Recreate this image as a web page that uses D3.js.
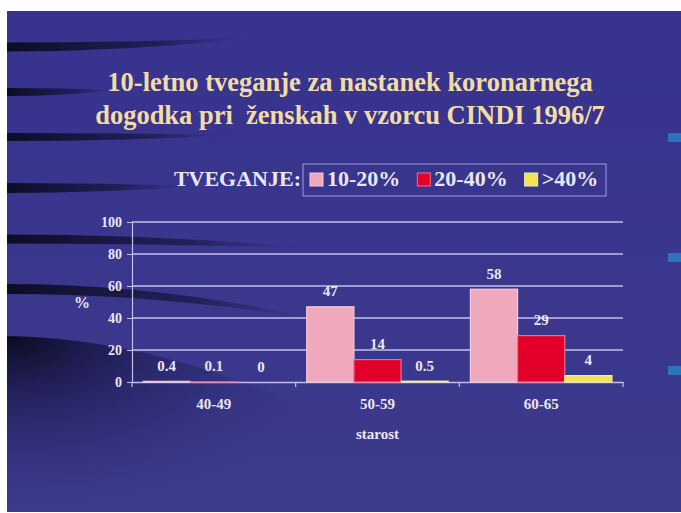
<!DOCTYPE html>
<html>
<head>
<meta charset="utf-8">
<script src="https://cdn.jsdelivr.net/npm/d3@7"></script>
<style>
  html, body { margin: 0; padding: 0; background: #fff; }
  svg { display: block; }
  text { white-space: pre; }
</style>
</head>
<body>
<svg id="chart" width="681" height="513"></svg>
<script>
var titleLines = ['10-letno tveganje za nastanek koronarnega',
                  'dogodka pri  ženskah v vzorcu CINDI 1996/7'];
var legendTitle = 'TVEGANJE:';
var categories = ['40-49', '50-59', '60-65'];
var seriesNames = ['10-20%', '20-40%', '>40%'];
var seriesColors = ['#f0a9bc', '#e2002b', '#f1e257'];
var seriesStroke = ['#f7c9d6', '#f06d8c', '#f6f09e'];
// one row per series, one value per age group
var values = [
  [0.4, 47, 58],
  [0.1, 14, 29],
  [0, 0.5, 4]
];
var yTicks = [0, 20, 40, 60, 80, 100];
var yLabel = '%';
var xLabel = 'starost';

var serif = '"Liberation Serif", "Times New Roman", serif';
var textColor = '#ebe6f5';
var gridColor = '#c3bdee';

var svg = d3.select('#chart');
var defs = svg.append('defs');

// slide background
svg.append('rect').attr('width', 681).attr('height', 513).attr('fill', '#fff');
var bgGrad = defs.append('linearGradient').attr('id', 'bg')
  .attr('x1', 0).attr('y1', 0).attr('x2', 0).attr('y2', 1);
bgGrad.append('stop').attr('offset', 0).attr('stop-color', '#37338f');
bgGrad.append('stop').attr('offset', 1).attr('stop-color', '#3c3a8b');
svg.append('rect').attr('x', 7).attr('y', 11).attr('width', 674).attr('height', 501)
  .attr('fill', 'url(#bg)');

var fade = defs.append('linearGradient').attr('id', 'fade')
  .attr('x1', 0).attr('y1', 0).attr('x2', 1).attr('y2', 0);
fade.append('stop').attr('offset', 0).attr('stop-color', '#0a0a1e').attr('stop-opacity', 0.95);
fade.append('stop').attr('offset', 0.6).attr('stop-color', '#15143a').attr('stop-opacity', 0.65);
fade.append('stop').attr('offset', 1).attr('stop-color', '#2a2770').attr('stop-opacity', 0);

// dark swooshes on the left: [left y, right x, right y, thickness]
var swooshes = [
  [47, 260, 37, 9],
  [92, 120, 90, 8],
  [137, 240, 135, 8],
  [188, 200, 186, 10],
  [239, 310, 248, 9],
  [289, 320, 320, 10]
];
var deco = svg.append('g').attr('class', 'deco');
deco.selectAll('path.swoosh').data(swooshes).enter().append('path')
  .attr('class', 'swoosh')
  .attr('fill', 'url(#fade)')
  .attr('d', function(s) {
    var p = d3.path(), mx = (7 + s[1]) / 2;
    p.moveTo(7, s[0] - s[3] / 2);
    p.quadraticCurveTo(mx, s[0] - s[3] / 2, s[1], s[2]);
    p.quadraticCurveTo(mx, s[0] + s[3] / 2, 7, s[0] + s[3] / 2);
    p.closePath();
    return p.toString();
  });

var wedge = defs.append('radialGradient').attr('id', 'wedge')
  .attr('cx', 0).attr('cy', 0).attr('r', 1);
wedge.append('stop').attr('offset', 0).attr('stop-color', '#08081a').attr('stop-opacity', 0.95);
wedge.append('stop').attr('offset', 0.45).attr('stop-color', '#1c1a50').attr('stop-opacity', 0.55);
wedge.append('stop').attr('offset', 1).attr('stop-color', '#2e2b78').attr('stop-opacity', 0);
deco.append('path')
  .attr('fill', 'url(#wedge)')
  .attr('d', 'M7,336 C120,338 230,370 345,425 L345,512 L7,512 Z');

// small cyan marks at the right edge
deco.selectAll('rect.mark').data([[668, 133], [668, 253], [668, 366]]).enter()
  .append('rect').attr('class', 'mark')
  .attr('x', function(d) { return d[0]; }).attr('y', function(d) { return d[1]; })
  .attr('width', 13).attr('height', 9).attr('fill', '#2b7ec4').attr('opacity', 0.85);

// title
var title = svg.append('g').attr('class', 'title');
title.selectAll('text').data(titleLines).enter().append('text')
  .attr('x', 350)
  .attr('y', function(d, i) { return 91 + i * 33; })
  .attr('text-anchor', 'middle')
  .attr('font-family', serif).attr('font-weight', 'bold').attr('font-size', 26.5)
  .attr('fill', '#f2dca3')
  .text(function(d) { return d; });

// scales
var x0 = d3.scaleBand().domain(categories).range([132, 623]);
var x1 = d3.scaleBand().domain(seriesNames).range([0, x0.bandwidth()])
  .paddingInner(0).paddingOuter(0.235);
var y = d3.scaleLinear().domain([0, 100]).range([382, 222]);

var plot = svg.append('g').attr('class', 'plot');

// gridlines
plot.append('g').selectAll('line').data(yTicks.slice(1)).enter().append('line')
  .attr('x1', 132).attr('x2', 623)
  .attr('y1', function(d) { return y(d); }).attr('y2', function(d) { return y(d); })
  .attr('stroke', gridColor).attr('stroke-width', 1.5);

// y axis
var yAxis = plot.append('g').attr('transform', 'translate(132,0)')
  .call(d3.axisLeft(y).tickValues(yTicks).tickSize(5).tickPadding(5));
yAxis.attr('font-family', serif);
yAxis.select('.domain').attr('stroke', gridColor).attr('stroke-width', 1.2);
yAxis.selectAll('.tick line').attr('stroke', gridColor);
yAxis.selectAll('.tick text')
  .attr('font-family', serif).attr('font-weight', 'bold').attr('font-size', 14)
  .attr('fill', textColor);

// x axis: labels centred, ticks on group boundaries
var xAxis = plot.append('g').attr('transform', 'translate(0,382)')
  .call(d3.axisBottom(x0).tickSize(0).tickPadding(16));
xAxis.attr('font-family', serif);
xAxis.select('.domain').attr('stroke', gridColor).attr('stroke-width', 1.5);
xAxis.selectAll('.tick text')
  .attr('font-family', serif).attr('font-weight', 'bold').attr('font-size', 15)
  .attr('fill', textColor);
var bounds = categories.map(function(c) { return x0(c); }).concat([x0.range()[1]]);
xAxis.selectAll('line.sep').data(bounds).enter().append('line')
  .attr('class', 'sep')
  .attr('x1', function(d) { return d; }).attr('x2', function(d) { return d; })
  .attr('y1', 0).attr('y2', 5)
  .attr('stroke', gridColor).attr('stroke-width', 1.2);

// bars
var barData = [];
seriesNames.forEach(function(s, si) {
  categories.forEach(function(c, ci) {
    barData.push({ series: s, si: si, cat: c, value: values[si][ci] });
  });
});

var bars = plot.append('g').attr('class', 'bars');
bars.selectAll('rect').data(barData).enter().append('rect')
  .attr('x', function(d) { return x0(d.cat) + x1(d.series); })
  .attr('y', function(d) { return y(d.value); })
  .attr('width', x1.bandwidth())
  .attr('height', function(d) { return y(0) - y(d.value); })
  .attr('fill', function(d) { return seriesColors[d.si]; })
  .attr('stroke', function(d) { return seriesStroke[d.si]; })
  .attr('stroke-width', 1.2);

bars.selectAll('text').data(barData).enter().append('text')
  .attr('x', function(d) { return x0(d.cat) + x1(d.series) + x1.bandwidth() / 2; })
  .attr('y', function(d) { return y(d.value) - 10.5; })
  .attr('text-anchor', 'middle')
  .attr('font-family', serif).attr('font-weight', 'bold').attr('font-size', 15)
  .attr('fill', textColor)
  .text(function(d) { return d.value; });

// axis titles
svg.append('text').attr('x', 82).attr('y', 308).attr('text-anchor', 'middle')
  .attr('font-family', serif).attr('font-weight', 'bold').attr('font-size', 16)
  .attr('fill', textColor).text(yLabel);
svg.append('text').attr('x', (x0.range()[0] + x0.range()[1]) / 2).attr('y', 438.5)
  .attr('text-anchor', 'middle')
  .attr('font-family', serif).attr('font-weight', 'bold').attr('font-size', 15)
  .attr('fill', textColor).text(xLabel);

// legend
var legend = svg.append('g').attr('class', 'legend');
legend.append('text').attr('x', 301).attr('y', 186).attr('text-anchor', 'end')
  .attr('font-family', serif).attr('font-weight', 'bold').attr('font-size', 22)
  .attr('fill', textColor).text(legendTitle);
legend.append('rect').attr('x', 303).attr('y', 164).attr('width', 303).attr('height', 32)
  .attr('fill', 'none').attr('stroke', '#a39de0').attr('stroke-width', 1);

var lx = 310;
seriesNames.forEach(function(s, i) {
  legend.append('rect').attr('x', lx).attr('y', 173).attr('width', 13).attr('height', 13)
    .attr('fill', seriesColors[i]).attr('stroke', seriesStroke[i]).attr('stroke-width', 1);
  var t = legend.append('text').attr('x', lx + 17).attr('y', 186)
    .attr('font-family', serif).attr('font-weight', 'bold').attr('font-size', 22)
    .attr('fill', textColor).text(s);
  lx += 17 + t.node().getComputedTextLength() + 17;
});
</script>
</body>
</html>
